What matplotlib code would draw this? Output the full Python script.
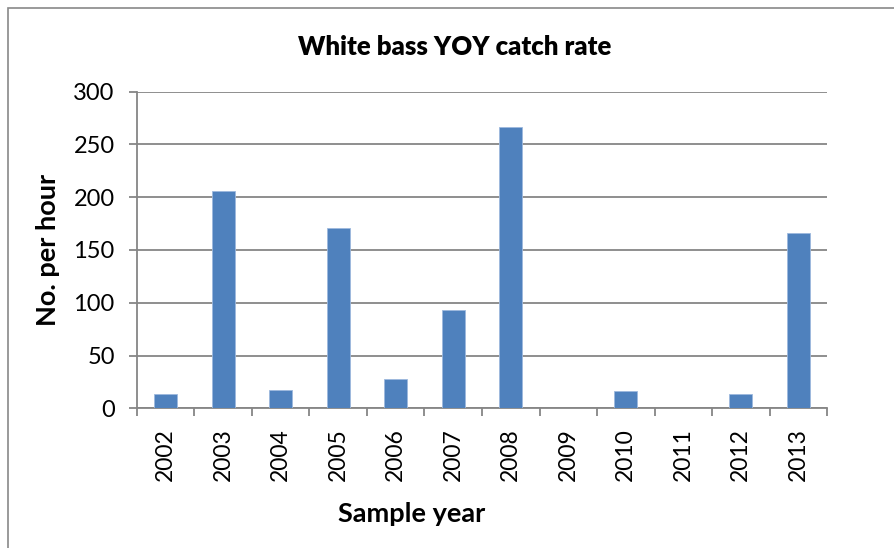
import matplotlib.pyplot as plt
import matplotlib.patches as mpatches
import numpy as np

years = ["2002", "2003", "2004", "2005", "2006", "2007", "2008",
         "2009", "2010", "2011", "2012", "2013"]
catch_rate = [14, 206, 17, 171, 28, 93, 267, 0, 16, 0, 14, 166]

plt.rcParams["font.family"] = ["Lato", "DejaVu Sans"]

fig = plt.figure(figsize=(8.94, 5.48), dpi=100)
ax = fig.add_axes([0.1532, 0.2549, 0.9251 - 0.1532, 0.8327 - 0.2549])

# outer chart border (only left and top visible in the reference)
fig.patches.append(mpatches.Rectangle((8 / 894, -0.1), 1.2, 1 - 8 / 548 + 0.1,
                                      transform=fig.transFigure, fill=False,
                                      edgecolor="#898989", linewidth=1.2))

x = np.arange(len(years))
ax.bar(x, catch_rate, width=0.4, color="#4F81BD", edgecolor="#9DB9DD",
       linewidth=0.6, zorder=3)

ax.set_xlim(-0.5, len(years) - 0.5)
ax.set_ylim(0, 300)
ax.set_yticks(range(0, 301, 50))
ax.grid(axis="y", color="#868686", linewidth=1.3, zorder=0)

ax.set_xticks(x)
ax.set_xticklabels(years, rotation=90, fontsize=16.5)
ax.set_xticks(np.arange(-0.5, len(years)), minor=True)
ax.tick_params(axis="x", which="major", length=0, pad=14)
ax.tick_params(axis="x", which="minor", length=6, width=1.3, color="#868686")
ax.tick_params(axis="y", length=6, width=1.3, color="#868686", labelsize=17, pad=10)

for side in ["top", "right"]:
    ax.spines[side].set_visible(False)
for side in ["left", "bottom"]:
    ax.spines[side].set_color("#868686")
    ax.spines[side].set_linewidth(1.3)

fig.text(455 / 894, 1 - 47 / 548, "White bass YOY catch rate", ha="center",
         va="center", fontsize=18.5, fontweight="heavy")
fig.text(412 / 894, 1 - 514 / 548, "Sample year", ha="center", va="center",
         fontsize=19.5, fontweight="bold")
fig.text(48 / 894, 1 - 250 / 548, "No. per hour", ha="center", va="center",
         rotation=90, fontsize=19.5, fontweight="bold")

fig.savefig("out.png", dpi=100)
